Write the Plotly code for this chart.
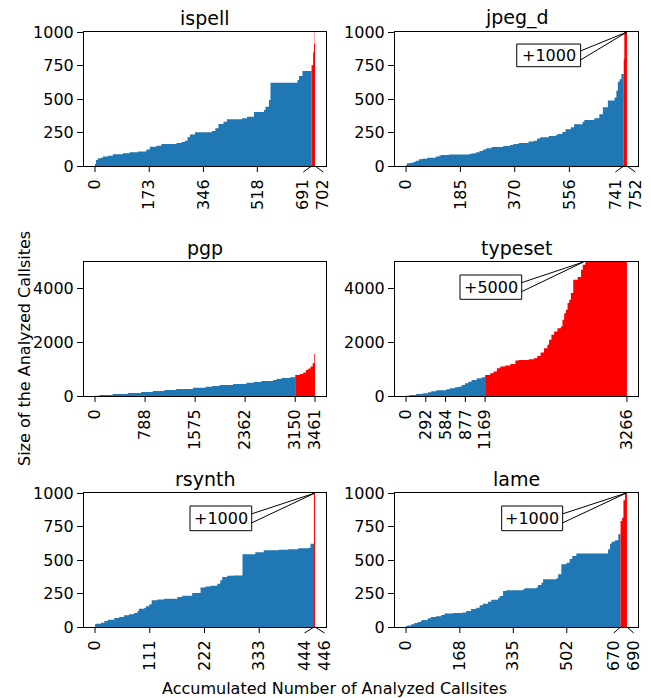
import plotly.graph_objects as go

# ---------------- data ----------------
names = ["ispell", "jpeg_d", "pgp", "typeset", "rsynth", "lame"]
totals = [702, 752, 3461, 3266, 446, 690]
splits = [691, 741, 3150, 1169, 444, 670]
ymaxes = [1000, 1000, 5000, 5000, 1000, 1000]

yticks_small = [0, 250, 500, 750, 1000]
yticks_big = [0, 2000, 4000]

ispell_ticks = [0, 173, 346, 518]
jpeg_d_ticks = [0, 185, 370, 556]
pgp_ticks = [0, 788, 1575, 2362, 3150, 3461]
typeset_ticks = [0, 292, 584, 877, 1169, 3266]
rsynth_ticks = [0, 111, 222, 333]
lame_ticks = [0, 168, 335, 502]

ispell_pair = [691, 702]
jpeg_d_pair = [741, 752]
rsynth_pair = [444, 446]
lame_pair = [670, 690]

# sorted callsite sizes, as runs: first index of each run and its size
ispell_start = [0, 3, 9, 19, 25, 41, 57, 89, 110, 137, 164, 175, 196, 212, 260, 276, 287, 295, 303, 319,
                373, 384, 394, 410, 421, 469, 485, 507, 539, 544, 555, 560, 646, 651, 662, 691, 696, 699, 701]
ispell_size = [15, 45, 57, 62, 70, 77, 87, 95, 102, 109, 124, 144, 152, 164, 172, 179, 189, 214, 236, 251,
               261, 281, 313, 331, 348, 356, 368, 403, 418, 443, 493, 622, 642, 672, 709, 751, 848, 915, 1000]

jpeg_d_start = [0, 3, 15, 26, 34, 44, 55, 72, 101, 113, 118, 147, 216, 227, 239, 250, 262, 273, 291, 331,
                354, 365, 383, 417, 434, 446, 457, 486, 509, 515, 532, 543, 561, 572, 601, 607, 641, 658, 670, 687,
                710, 716, 721, 727, 733, 741, 743]
jpeg_d_size = [7, 20, 25, 32, 40, 50, 55, 62, 70, 77, 82, 85, 92, 95, 102, 112, 124, 132, 142, 149,
               157, 164, 172, 182, 189, 206, 214, 224, 229, 239, 254, 274, 289, 311, 331, 343, 356, 386, 438, 488,
               512, 562, 629, 647, 687, 796, 1000]

pgp_start = [0, 68, 279, 515, 726, 910, 1094, 1278, 1541, 1741, 1846, 1962, 2172, 2382, 2498, 2619, 2803, 2855,
             2934, 3066, 3150, 3224, 3276, 3318, 3355, 3392, 3424, 3450]
pgp_size = [10, 37, 75, 112, 150, 187, 224, 262, 312, 349, 374, 411, 449, 499, 524, 561, 599, 636,
            673, 698, 786, 823, 873, 973, 1022, 1097, 1222, 1571]

typeset_start = [0, 50, 149, 249, 323, 373, 448, 597, 647, 721, 771, 821, 871, 920, 970, 1045, 1119, 1169, 1244,
                 1293, 1343, 1393, 1467, 1542, 1617, 1666, 1816, 1890, 1940, 1990, 2040, 2089, 2114, 2149, 2189,
                 2238, 2288, 2313, 2338, 2363, 2388, 2413, 2437, 2472, 2537, 2587, 2612, 2651]
typeset_size = [12, 37, 75, 100, 137, 175, 212, 249, 287, 324, 349, 411, 474, 536, 599, 661, 698, 786, 848,
                910, 1035, 1097, 1135, 1197, 1322, 1347, 1372, 1409, 1496, 1621, 1783, 1908, 2095, 2282, 2407,
                2531, 2594, 2843, 3092, 3217, 3466, 3591, 3840, 4339, 4439, 4713, 4900, 5000]

rsynth_start = [0, 2, 12, 19, 26, 39, 49, 59, 69, 79, 86, 89, 100, 103, 110, 115, 126, 140, 167, 177,
                197, 214, 224, 234, 248, 254, 258, 268, 281, 299, 325, 342, 372, 392, 412, 433, 437, 444]
rsynth_size = [20, 25, 32, 45, 55, 67, 75, 87, 95, 105, 117, 137, 142, 154, 169, 199, 206, 211, 224, 234,
               254, 294, 303, 308, 323, 348, 373, 383, 385, 542, 557, 572, 577, 580, 587, 592, 622, 1000]

lame_start = [0, 5, 16, 26, 37, 47, 52, 68, 78, 94, 110, 120, 146, 177, 188, 203, 219, 230, 240, 256,
              266, 287, 292, 303, 313, 365, 370, 407, 412, 423, 428, 470, 475, 485, 501, 511, 519, 532, 631, 637,
              642, 652, 663, 670, 675, 679, 684]
lame_size = [7, 12, 20, 30, 37, 50, 52, 65, 75, 80, 90, 100, 104, 109, 119, 134, 144, 162, 174, 189,
             204, 214, 231, 269, 274, 279, 289, 294, 313, 331, 356, 363, 393, 468, 480, 507, 530, 548, 580, 622,
             637, 647, 692, 791, 816, 945, 1000]

callout_text = ["", "+1000", "", "+5000", "+1000", "+1000"]
callout_apex_x = [None, 752, None, 2622, 446, 688]

starts = [ispell_start, jpeg_d_start, pgp_start, typeset_start, rsynth_start, lame_start]
sizes = [ispell_size, jpeg_d_size, pgp_size, typeset_size, rsynth_size, lame_size]
reg_ticks = [ispell_ticks, jpeg_d_ticks, pgp_ticks, typeset_ticks, rsynth_ticks, lame_ticks]
pair_ticks = [ispell_pair, jpeg_d_pair, None, None, rsynth_pair, lame_pair]

# ---------------- layout geometry (pixels) ----------------
W, H = 651, 698
FONT = "DejaVu Sans"
BLUE = "#1f77b4"
RED = "#ff0000"
col_px = [(84, 326), (395, 638)]
row_px = [(32, 166), (262, 396), (493, 627)]
TICKLEN = 6
TICK_FONT = 16
# callout boxes: (x0, x1, y0, y1) in axis-domain fractions
box_dom = [None, (0.501, 0.764, 0.741, 0.910), None, (0.2675, 0.5214, 0.7216, 0.903),
           (0.438, 0.693, 0.7187, 0.903), (0.439, 0.690, 0.7187, 0.903)]


def step_xy(st, sz, lo, hi):
    xs, ys = [], []
    prev = sz[0]
    for s, v in zip(st, sz):
        if s < lo:
            prev = v
            continue
        if s >= hi:
            break
        if not xs and s > lo:
            xs.append(lo)
            ys.append(prev)
        xs.append(s)
        ys.append(v)
    xs.append(hi)
    ys.append(ys[-1])
    return xs, ys


fig = go.Figure()
shapes = []
annotations = []

for i, name in enumerate(names):
    r, c = divmod(i, 2)
    n = i + 1
    xa = "x" if n == 1 else f"x{n}"
    ya = "y" if n == 1 else f"y{n}"
    N = totals[i]
    sp = splits[i]
    ymax = ymaxes[i]
    x0p, x1p = col_px[c]
    y0p, y1p = row_px[r]
    axw = x1p - x0p
    axh = y1p - y0p
    xr = [-0.05 * N, 1.05 * N]
    scale = axw / (xr[1] - xr[0])

    bx, by = step_xy(starts[i], sizes[i], 0, sp)
    rx, ry = step_xy(starts[i], sizes[i], sp, N)
    fig.add_trace(go.Scatter(x=bx, y=by, mode="lines", line=dict(width=0, shape="hv"),
                             fill="tozeroy", fillcolor=BLUE, xaxis=xa, yaxis=ya,
                             hoverinfo="skip", showlegend=False))
    fig.add_trace(go.Scatter(x=rx, y=ry, mode="lines", line=dict(width=0, shape="hv"),
                             fill="tozeroy", fillcolor=RED, xaxis=xa, yaxis=ya,
                             hoverinfo="skip", showlegend=False))

    # tick labels and tick marks
    tv = list(reg_ticks[i])
    tt = [str(t) for t in reg_ticks[i]]
    for t in reg_ticks[i]:
        shapes.append(dict(type="line", xref=xa, yref=f"{ya} domain", x0=t, x1=t,
                           y0=0, y1=-TICKLEN / axh, line=dict(color="black", width=1)))
    if pair_ticks[i]:
        a, b = pair_ticks[i]
        mid = (a + b) / 2
        off = 10 / scale
        for t, lab in ((a, mid - off), (b, mid + off)):
            tv.append(lab)
            tt.append(str(t))
            shapes.append(dict(type="line", xref=xa, yref=f"{ya} domain", x0=t, x1=lab,
                               y0=0, y1=-TICKLEN / axh, line=dict(color="black", width=1)))

    yt = yticks_small if ymax == 1000 else yticks_big
    axis_common = dict(showline=True, mirror=True, linecolor="black", linewidth=1,
                       showgrid=False, zeroline=False, automargin=False,
                       tickfont=dict(family=FONT, size=TICK_FONT, color="black"))
    fig.layout[f"xaxis{n}"] = dict(domain=[x0p / W, x1p / W], anchor=ya, range=xr,
                                   tickmode="array", tickvals=tv, ticktext=tt, tickangle=-90,
                                   ticks="outside", ticklen=TICKLEN, tickcolor="rgba(0,0,0,0)",
                                   **axis_common)
    fig.layout[f"yaxis{n}"] = dict(domain=[1 - y1p / H, 1 - y0p / H], anchor=xa, range=[0, ymax],
                                   tickmode="array", tickvals=yt, ticktext=[str(v) for v in yt],
                                   ticks="outside", ticklen=TICKLEN, tickcolor="black", tickwidth=1,
                                   **axis_common)

    annotations.append(dict(text=name, xref=f"{xa} domain", yref=f"{ya} domain", x=0.5, y=1,
                            xanchor="center", yanchor="bottom", yshift=1, showarrow=False,
                            font=dict(family=FONT, size=19, color="black")))

    if callout_text[i]:
        bx0, bx1, by0, by1 = box_dom[i]
        shapes.append(dict(type="rect", xref=f"{xa} domain", yref=f"{ya} domain",
                           x0=bx0, x1=bx1, y0=by0, y1=by1,
                           line=dict(color="black", width=1), fillcolor="white"))
        annotations.append(dict(text=callout_text[i], xref=f"{xa} domain", yref=f"{ya} domain",
                                x=(bx0 + bx1) / 2, y=(by0 + by1) / 2, xanchor="center",
                                yanchor="middle", showarrow=False,
                                font=dict(family=FONT, size=TICK_FONT, color="black")))
        ax_d = (callout_apex_x[i] - xr[0]) / (xr[1] - xr[0])
        cy = (by0 + by1) / 2
        dy = 4.5 / axh
        shapes.append(dict(type="path", xref=f"{xa} domain", yref=f"{ya} domain",
                           path=f"M {bx1},{cy + dy} L {ax_d},1 L {bx1},{cy - dy}",
                           line=dict(color="black", width=1)))

annotations.append(dict(text="Size of the Analyzed Callsites", xref="paper", yref="paper",
                        x=24 / W, y=0.5, xanchor="center", yanchor="middle", textangle=-90,
                        showarrow=False, font=dict(family=FONT, size=16, color="black")))
annotations.append(dict(text="Accumulated Number of Analyzed Callsites", xref="paper", yref="paper",
                        x=335 / W, y=1 - 688 / H, xanchor="center", yanchor="middle",
                        showarrow=False, font=dict(family=FONT, size=16, color="black")))

fig.update_layout(template="none", width=W, height=H, margin=dict(l=0, r=0, t=0, b=0, pad=0),
                  paper_bgcolor="white", plot_bgcolor="white",
                  font=dict(family=FONT, color="black"),
                  shapes=shapes, annotations=annotations, showlegend=False)

fig.write_html("out.html", config={"displayModeBar": False, "staticPlot": True},
               post_script="document.body.style.margin='0px';")
